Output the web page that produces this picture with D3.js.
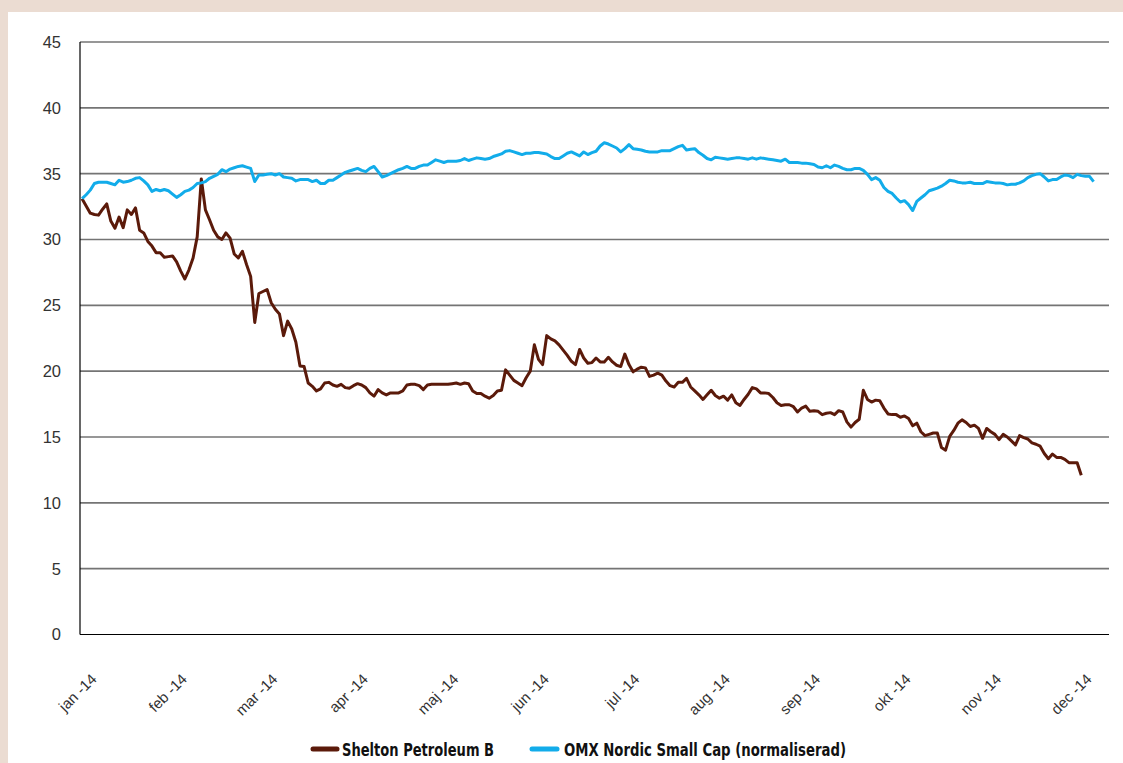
<!DOCTYPE html>
<html>
<head>
<meta charset="utf-8">
<script src="https://cdn.jsdelivr.net/npm/d3@7/dist/d3.min.js"></script>
<style>
  html, body { margin: 0; padding: 0; background: #ebdcd2; }
  svg { display: block; }
</style>
</head>
<body>
<svg id="chart" width="1123" height="763"></svg>
<script>
// ---- data (one value per trading day) ----
const monthLabels = ["jan -14","feb -14","mar -14","apr -14","maj -14","jun -14","jul -14","aug -14","sep -14","okt -14","nov -14","dec -14"];
const monthTickIndex = [0,22,44,66,88,110,132,154,176,198,220,242];
const yTicks = [0,5,10,15,20,25,30,35,40,45];
const seriesNames = ["Shelton Petroleum B","OMX Nordic Small Cap (normaliserad)"];
const nCategories = 250;

const shelton = [
 33.1,32.55,32.0,31.9,31.85,32.3,32.7,31.4,30.85,31.7,
 30.9,32.25,31.9,32.4,30.7,30.5,29.85,29.5,29.0,29.0,
 28.65,28.7,28.75,28.3,27.6,27.0,27.7,28.6,30.2,34.6,
 32.25,31.5,30.7,30.2,30.0,30.5,30.1,28.9,28.6,29.1,
 28.1,27.2,23.7,25.9,26.05,26.2,25.2,24.7,24.35,22.7,
 23.8,23.2,22.2,20.4,20.35,19.1,18.85,18.5,18.65,19.1,
 19.15,18.95,18.85,19.0,18.75,18.7,18.9,19.05,18.95,18.75,
 18.35,18.1,18.6,18.35,18.2,18.35,18.35,18.35,18.5,18.95,
 19.0,19.0,18.9,18.6,18.95,19.0,19.0,19.0,19.0,19.0,
 19.05,19.1,19.0,19.1,19.05,18.5,18.3,18.3,18.1,17.95,
 18.15,18.5,18.55,20.1,19.7,19.3,19.1,18.9,19.5,20.0,
 22.0,20.9,20.5,22.7,22.45,22.3,22.0,21.6,21.2,20.75,
 20.5,21.65,21.0,20.6,20.65,21.0,20.7,20.7,21.05,20.7,
 20.45,20.35,21.3,20.5,19.95,20.15,20.3,20.25,19.6,19.7,
 19.85,19.7,19.25,18.9,18.8,19.15,19.15,19.45,18.8,18.5,
 18.2,17.85,18.2,18.55,18.15,17.95,18.1,17.8,18.2,17.6,
 17.4,17.85,18.25,18.75,18.65,18.35,18.35,18.3,18.0,17.6,
 17.4,17.45,17.45,17.3,16.9,17.2,17.35,16.95,17.0,16.95,
 16.7,16.8,16.85,16.7,17.0,16.9,16.15,15.75,16.1,16.35,
 18.55,17.85,17.65,17.8,17.75,17.2,16.75,16.7,16.7,16.5,
 16.6,16.4,15.85,16.05,15.4,15.1,15.2,15.3,15.3,14.2,
 14.0,15.05,15.5,16.05,16.3,16.1,15.8,15.9,15.65,14.9,
 15.65,15.4,15.2,14.8,15.2,15.0,14.7,14.4,15.1,14.95,
 14.85,14.55,14.45,14.3,13.75,13.35,13.7,13.45,13.45,13.3,
 13.05,13.05,13.05,12.1
];

const omx = [
 33.1,33.4,33.75,34.25,34.35,34.35,34.35,34.25,34.15,34.5,
 34.35,34.4,34.5,34.65,34.7,34.45,34.15,33.65,33.8,33.7,
 33.8,33.7,33.45,33.2,33.4,33.65,33.75,33.95,34.25,34.3,
 34.4,34.65,34.8,34.95,35.3,35.15,35.35,35.45,35.55,35.6,
 35.5,35.4,34.4,34.9,34.9,34.95,35.0,34.9,35.0,34.75,
 34.7,34.65,34.45,34.55,34.55,34.55,34.4,34.5,34.25,34.25,
 34.5,34.5,34.7,34.9,35.1,35.2,35.3,35.4,35.25,35.15,
 35.4,35.55,35.15,34.75,34.85,35.0,35.15,35.3,35.4,35.55,
 35.4,35.4,35.55,35.65,35.65,35.85,36.05,35.95,35.85,35.95,
 35.95,35.95,36.0,36.15,36.0,36.1,36.2,36.15,36.1,36.15,
 36.3,36.4,36.5,36.7,36.75,36.65,36.55,36.45,36.55,36.55,
 36.6,36.6,36.55,36.5,36.3,36.15,36.15,36.35,36.55,36.65,
 36.5,36.35,36.65,36.45,36.6,36.7,37.1,37.35,37.25,37.1,
 36.95,36.65,36.9,37.2,36.9,36.85,36.8,36.7,36.65,36.65,
 36.65,36.75,36.75,36.75,36.9,37.05,37.15,36.8,36.85,36.9,
 36.6,36.4,36.15,36.05,36.25,36.2,36.15,36.1,36.15,36.2,
 36.2,36.15,36.1,36.2,36.1,36.2,36.15,36.1,36.05,36.0,
 35.95,36.1,35.85,35.85,35.85,35.8,35.8,35.75,35.7,35.5,
 35.45,35.6,35.45,35.65,35.55,35.4,35.3,35.3,35.4,35.4,
 35.25,34.95,34.55,34.7,34.5,33.95,33.65,33.5,33.15,32.85,
 32.95,32.65,32.2,32.9,33.15,33.4,33.7,33.8,33.9,34.05,
 34.25,34.5,34.45,34.35,34.3,34.3,34.35,34.25,34.25,34.25,
 34.4,34.35,34.3,34.3,34.25,34.15,34.2,34.2,34.3,34.45,
 34.7,34.85,34.95,35.0,34.75,34.45,34.55,34.55,34.75,34.9,
 34.85,34.7,34.95,34.85,34.8,34.8,34.4
];

const colors = ["#5b1a0a", "#12acea"];

// ---- drawing ----
const svg = d3.select("#chart");
svg.append("rect").attr("x", 0).attr("y", 0).attr("width", 1123).attr("height", 763).attr("fill", "#ebdcd2");
svg.append("rect").attr("x", 8).attr("y", 12).attr("width", 1115).attr("height", 751).attr("fill", "#ffffff");

const plotLeft = 80, plotRight = 1108, plotTop = 42, plotBottom = 634.5;
const x = d3.scaleLinear().domain([0, nCategories]).range([plotLeft, plotRight]);
const y = d3.scaleLinear().domain([0, 45]).range([plotBottom, plotTop]);

// gridlines
svg.append("g").selectAll("line").data(yTicks.filter(d => d > 0)).join("line")
  .attr("x1", plotLeft).attr("x2", plotRight + 1)
  .attr("y1", d => y(d)).attr("y2", d => y(d))
  .attr("stroke", "#747474").attr("stroke-width", 1.6);

// axes lines
svg.append("line").attr("x1", plotLeft).attr("x2", plotLeft).attr("y1", plotTop).attr("y2", plotBottom)
  .attr("stroke", "#000").attr("stroke-width", 1.2);
svg.append("line").attr("x1", plotLeft).attr("x2", plotRight + 1).attr("y1", plotBottom).attr("y2", plotBottom)
  .attr("stroke", "#000").attr("stroke-width", 1.2);

// y labels
svg.append("g").selectAll("text").data(yTicks).join("text")
  .attr("x", 61).attr("y", d => y(d)).attr("dy", "0.36em")
  .attr("text-anchor", "end")
  .attr("font-family", "'Liberation Sans', Arial, sans-serif")
  .attr("font-size", 16.5).attr("fill", "#333")
  .text(d => d);

// x labels
svg.append("g").selectAll("text").data(monthTickIndex).join("text")
  .attr("transform", (d) => `translate(${x(d + 0.5) + 15.5},${680}) rotate(-45)`)
  .attr("text-anchor", "end")
  .attr("font-family", "'Liberation Sans', Arial, sans-serif")
  .attr("font-size", 15).attr("fill", "#333")
  .text((d, i) => monthLabels[i]);

// lines
const line = d3.line().x((d, i) => x(i + 0.5)).y(d => y(d)).curve(d3.curveLinear);
[shelton, omx].forEach((s, k) => {
  svg.append("path").datum(s)
    .attr("d", line)
    .attr("fill", "none")
    .attr("stroke", colors[k])
    .attr("stroke-width", 3)
    .attr("stroke-linejoin", "round");
});

// legend
const legend = [
  {sx1: 313, sx2: 337, tx: 342, tw: 152},
  {sx1: 532, sx2: 557, tx: 564, tw: 282}
];
legend.forEach((l, k) => {
  svg.append("line").attr("x1", l.sx1).attr("x2", l.sx2).attr("y1", 749).attr("y2", 749)
    .attr("stroke", colors[k]).attr("stroke-width", 5).attr("stroke-linecap", "round");
  svg.append("text").attr("x", l.tx).attr("y", 755.5)
    .attr("font-family", "'Liberation Sans Narrow', 'DejaVu Sans Condensed', 'Arial Narrow', sans-serif")
    .attr("font-weight", "bold").attr("font-size", 17).attr("fill", "#111")
    .attr("textLength", l.tw).attr("lengthAdjust", "spacingAndGlyphs")
    .text(seriesNames[k]);
});
</script>
</body>
</html>
